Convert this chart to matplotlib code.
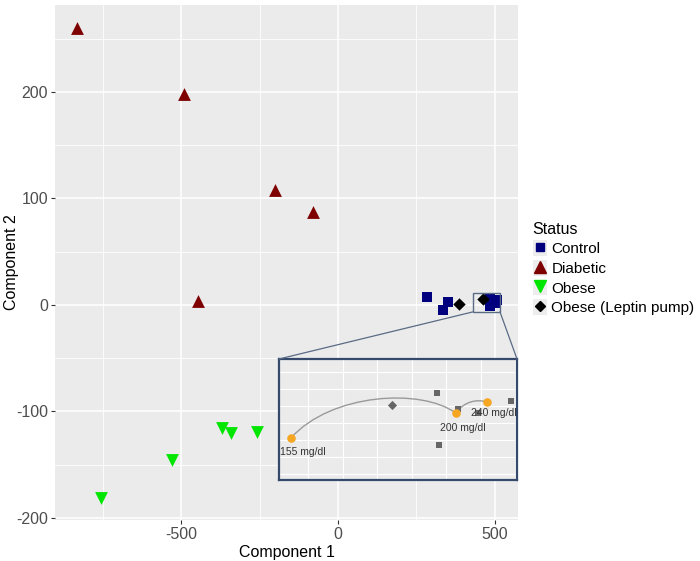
import numpy as np
import matplotlib
matplotlib.use('Agg')
import matplotlib.pyplot as plt
from matplotlib.lines import Line2D
from matplotlib.patches import Rectangle, Patch, PathPatch, ConnectionPatch
from matplotlib.path import Path
from matplotlib.legend_handler import HandlerTuple

plt.rcParams['font.family'] = ['Liberation Sans', 'DejaVu Sans']
plt.rcParams['axes.unicode_minus'] = False

# D A T A  ---------------------------------------------------------
control_x = [284, 351, 335, 485, 507, 485, 501]
control_y = [7.5, 3, -5, 6.6, 4.7, -1, 2]

diabetic_x = [-833, -491, -201, -80, -447]
diabetic_y = [260, 198, 108, 87, 4]

obese_x = [-756, -530, -370, -341, -258]
obese_y = [-181, -146, -116, -120, -119]

leptin_x = [386, 463]
leptin_y = [1, 5.6]

# zoomed inset (its own 0-100 scale)
glucose_x = [5.0, 74.2, 87.3]
glucose_y = [34.7, 55.4, 64.5]
glucose_lbl = ['155 mg/dl', '200 mg/dl', '240 mg/dl']
inset_sq_x = [66.3, 75.1, 83.5, 97.4, 67.4]
inset_sq_y = [72.1, 58.7, 55.4, 65.3, 28.9]
inset_dia_x = [47.6]
inset_dia_y = [62.0]

# zoom box in main axes
zoom_box = (431, 517, -6.5, 11.5)

# C O L O R S -------------------------------------------------------
C_CTRL = '#00007F'
C_DIAB = '#7F0000'
C_OBES = '#00E600'
C_LEPT = '#000000'
BOX_C = '#34496B'

fig = plt.figure(figsize=(7.0, 5.61), dpi=100)
ax = fig.add_axes([55/700, 1 - 520/561, 463/700, 515/561])
ax.set_facecolor('#EBEBEB')
for s in ax.spines.values():
    s.set_visible(False)

ax.set_xlim(-903, 574.5)
ax.set_ylim(-202, 281.7)
ax.set_xticks([-500, 0, 500])
ax.set_yticks([-200, -100, 0, 100, 200])
ax.set_xticks([-750, -250, 250], minor=True)
ax.set_yticks([-150, -50, 50, 150, 250], minor=True)
ax.grid(True, which='major', color='white', lw=1.1)
ax.grid(True, which='minor', color='white', lw=0.6)
ax.set_axisbelow(True)
ax.tick_params(which='major', length=3, color='#333333', labelsize=11.5,
               labelcolor='#4D4D4D', width=0.8, pad=2)
ax.tick_params(which='minor', length=0)
ax.set_xlabel('Component 1', fontsize=11.5, labelpad=2)
ax.set_ylabel('Component 2', fontsize=11.5)
ax.yaxis.set_label_coords(-0.078, 0.5)

ax.scatter(control_x, control_y, marker='s', s=42, c=C_CTRL, lw=0, zorder=3)
ax.scatter(diabetic_x, diabetic_y, marker='^', s=85, c=C_DIAB, lw=0, zorder=3)
ax.scatter(obese_x, obese_y, marker='v', s=85, c=C_OBES, lw=0, zorder=3)
ax.scatter(leptin_x, leptin_y, marker='D', s=40, c=C_LEPT, lw=0, zorder=4)

x0, x1, y0, y1 = zoom_box
ax.add_patch(Rectangle((x0, y0), x1 - x0, y1 - y0, fill=False,
                       ec='#5A6B85', lw=1.0, zorder=5))

# inset
ins = fig.add_axes([279/700, 1 - 480/561, 238/700, 121/561])
ins.set_facecolor('#EBEBEB')
ins.set_xlim(0, 100)
ins.set_ylim(0, 100)
ins.set_xticks(np.arange(12.2, 100, 14.5))
ins.set_yticks(np.arange(5, 100, 14))
ins.grid(True, color='white', lw=0.8)
ins.set_axisbelow(True)
ins.tick_params(length=0, labelbottom=False, labelleft=False)
for s in ins.spines.values():
    s.set_color(BOX_C)
    s.set_linewidth(1.6)

verts = [(glucose_x[0], glucose_y[0]), (22, 72), (60, 76), (glucose_x[1], glucose_y[1]),
         (78, 65), (83, 67), (glucose_x[2], glucose_y[2])]
codes = [Path.MOVETO] + [Path.CURVE4] * 6
ins.add_patch(PathPatch(Path(verts, codes), fc='none', ec='#9A9A9A', lw=1.0, zorder=2))

ins.scatter(inset_sq_x, inset_sq_y, marker='s', s=22, c='#666666', lw=0, zorder=3)
ins.scatter(inset_dia_x, inset_dia_y, marker='D', s=22, c='#666666', lw=0, zorder=3)
ins.scatter(glucose_x, glucose_y, marker='o', s=38, c='#F5A623', lw=0, zorder=4)
offs = [(-4.5, -14), (-6.5, -15), (-6.5, -12)]
for gx, gy, t, (dx, dy) in zip(glucose_x, glucose_y, glucose_lbl, offs):
    ins.text(gx + dx, gy + dy, t, fontsize=7.5, color='#333333', zorder=5)

# connectors
for (xa, ya), (xb, yb) in [((x0, y0), (0, 100)), ((x1, y0), (100, 100))]:
    fig.add_artist(ConnectionPatch((xa, ya), (xb, yb), coordsA=ax.transData,
                                   coordsB=ins.transData, color='#5A6B85', lw=0.9))

# legend
bg = dict(fc='#EDEDED', ec='none')
handles = [
    (Patch(**bg), Line2D([], [], ls='none', marker='s', ms=5.5, color=C_CTRL)),
    (Patch(**bg), Line2D([], [], ls='none', marker='^', ms=8, color=C_DIAB)),
    (Patch(**bg), Line2D([], [], ls='none', marker='v', ms=8, color=C_OBES)),
    (Patch(**bg), Line2D([], [], ls='none', marker='D', ms=5.5, color=C_LEPT)),
]
labels = ['Control', 'Diabetic', 'Obese', 'Obese (Leptin pump)']
leg = fig.legend(handles, labels, handler_map={tuple: HandlerTuple(ndivide=1, pad=0)},
                 loc='upper left', bbox_to_anchor=(522/700, 1 - 211/561),
                 frameon=False, title='Status', alignment='left',
                 fontsize=11, title_fontsize=11.5, handlelength=0.95,
                 handleheight=1.2, handletextpad=0.28, labelspacing=0.24,
                 borderpad=0.2)

fig.savefig('out.png', dpi=100)
